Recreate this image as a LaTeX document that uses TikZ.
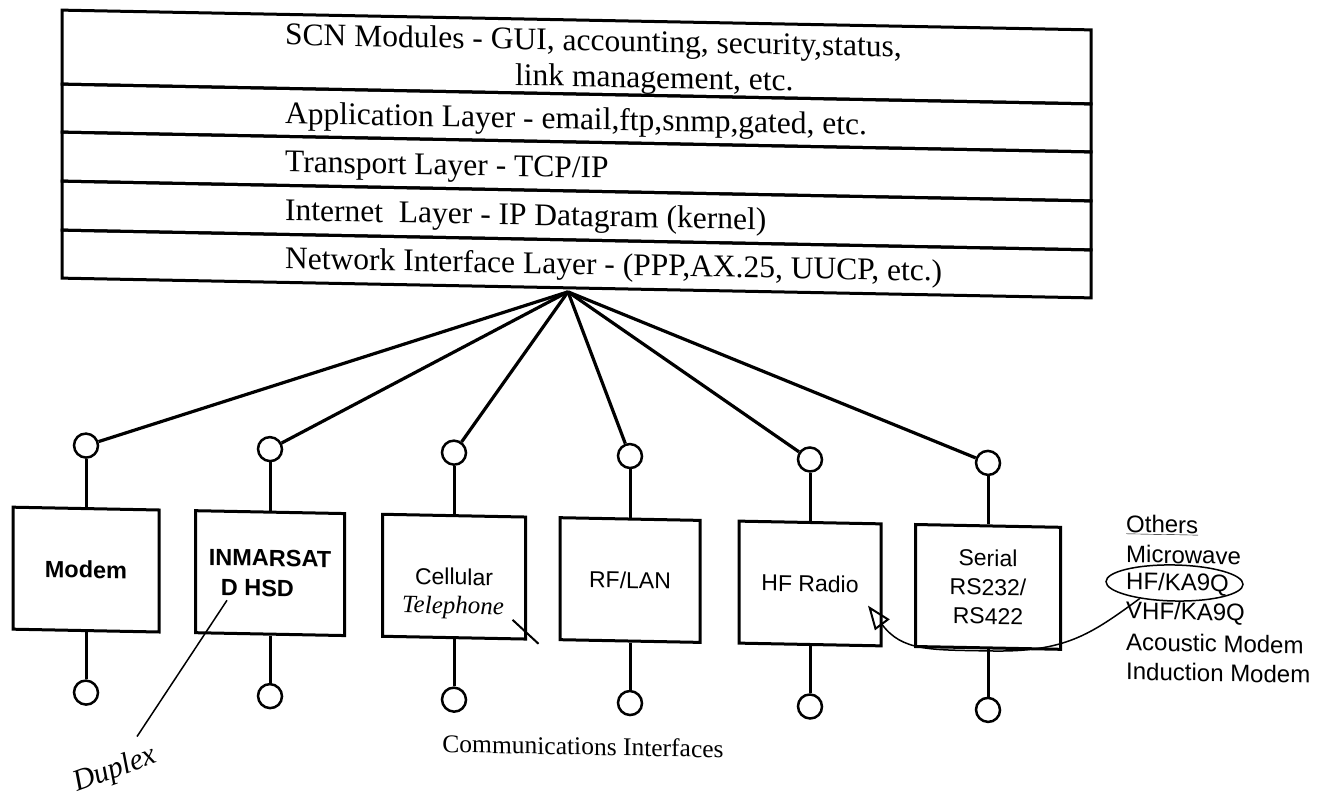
\documentclass[tikz,border=0pt]{standalone}
\usepackage{fontspec}
\setmainfont{Liberation Serif}
\setsansfont{Liberation Sans}
\usetikzlibrary{shapes.geometric,arrows.meta,calc}
\tikzset{
  rowbox/.style={draw, line width=3pt, minimum width=1029pt, inner sep=0pt, outer sep=0pt},
  layertxt/.style={font=\fontsize{31.5}{36}\selectfont, anchor=west, inner sep=0pt},
  port/.style={draw, circle, line width=2.5pt, minimum size=24pt, inner sep=0pt},
  ifbox/.style={draw, rectangle, line width=3pt, minimum height=122pt, inner sep=0pt,
    font=\sffamily\fontsize{23}{29}\selectfont, align=center},
  boldlbl/.style={font=\sffamily\bfseries\fontsize{23.5}{30}\selectfont},
  stem/.style={line width=3pt},
  feed/.style={line width=3.2pt},
  hand/.style={line width=1.5pt},
  handtxt/.style={font=\itshape\fontsize{25}{30}\selectfont, inner sep=0pt},
  othertxt/.style={font=\sffamily\fontsize{24}{29}\selectfont, anchor=west, inner sep=0pt},
}
\begin{document}
\begin{tikzpicture}[x=1pt,y=-1pt]
\useasboundingbox (0,0) rectangle (1327,797);
\begin{scope}[yshift=11.06pt, yslant=-0.0192, transform shape]
% protocol stack
\node[rowbox, minimum height=74pt] (r1) at (576.5,57) {};
\node[rowbox, minimum height=48pt] (r2) at (576.5,118) {};
\node[rowbox, minimum height=49pt] (r3) at (576.5,166.5) {};
\node[rowbox, minimum height=49pt] (r4) at (576.5,215.5) {};
\node[rowbox, minimum height=48pt] (r5) at (576.5,264) {};
\node[layertxt] (t1a) at (285,43) {SCN Modules - GUI, accounting, security,status,};
\node[layertxt] (t1b) at (515,79) {link management, etc.};
\node[layertxt] (t2) at (285,121.5) {Application Layer - email,ftp,snmp,gated, etc.};
\node[layertxt] (t3) at (285,170.5) {Transport Layer - TCP/IP};
\node[layertxt] (t4) at (285,218.5) {Internet\ \ Layer - IP Datagram (kernel)};
\node[layertxt] (t5) at (285,266.5) {Network Interface Layer - (PPP,AX.25, UUCP, etc.)};
\coordinate (hub) at (568,292);
% interfaces
\node[port] (p1) at (86,455) {};
\node[port] (p2) at (270,455) {};
\node[port] (p3) at (454,455) {};
\node[port] (p4) at (630,455) {};
\node[port] (p5) at (810,455) {};
\node[port] (p6) at (988,455) {};
\node[ifbox, boldlbl, minimum width=146pt] (b1) at (86,579) {Modem};
\node[ifbox, boldlbl, minimum width=149pt, align=left] (b2) at (270,579) {INMARSAT\\\hspace*{12pt}D HSD};
\node[ifbox, minimum width=143pt] (b3) at (454,579) {Cellular};
\node[ifbox, minimum width=140pt] (b4) at (630,579) {RF/LAN};
\node[ifbox, minimum width=142pt] (b5) at (810,579) {HF Radio};
\node[ifbox, minimum width=145pt] (b6) at (988,579) {Serial\\RS232/\\RS422};
\node[port] (q1) at (86,702) {};
\node[port] (q2) at (270,702) {};
\node[port] (q3) at (454,702) {};
\node[port] (q4) at (630,702) {};
\node[port] (q5) at (810,702) {};
\node[port] (q6) at (988,702) {};
\foreach \i in {1,...,6} {
  \draw[feed] (hub) -- (p\i);
  \draw[stem] (p\i) -- (b\i);
  \draw[stem] (b\i) -- (q\i);
}
\node[font=\fontsize{25.5}{30}\selectfont] (ci) at (583,746) {Communications Interfaces};
% others list
\node[othertxt] (o0) at (1126,514) {\underline{Others}};
\node[othertxt] (o1) at (1126,543.3) {Microwave};
\node[othertxt] (o2) at (1126,572.6) {HF/KA9Q};
\node[othertxt] (o3) at (1126,601.9) {VHF/KA9Q};
\node[othertxt] (o4) at (1126,631.2) {Acoustic Modem};
\node[othertxt] (o5) at (1126,660.5) {Induction Modem};
\node[draw, ellipse, hand, minimum width=137pt, minimum height=36pt, inner sep=0pt] (ell) at (1174.5,571.5) {};
\coordinate (arrtip) at (868,600);
\draw[hand, -{Triangle[open,length=24pt,width=18pt,line width=2pt]}] (ell.205) .. controls (1090,625) and (1065,643) .. (990,643) .. controls (930,643) and (902,645) .. (arrtip);
% handwritten notes
\node[handtxt] (tel) at (453,610) {Telephone};
\draw[line width=2pt] ($(b3.south east)+(-14.5,-20.5)$) -- ++(26,23.5);
\coordinate (dupA) at (227,607);
\coordinate (dupB) at (137,745);
\draw[hand] (dupA) -- (dupB);
\node[handtxt, font=\itshape\fontsize{30}{34}\selectfont, rotate=21] (dup) at (115,779) {Duplex};
\end{scope}
\end{tikzpicture}
\end{document}
